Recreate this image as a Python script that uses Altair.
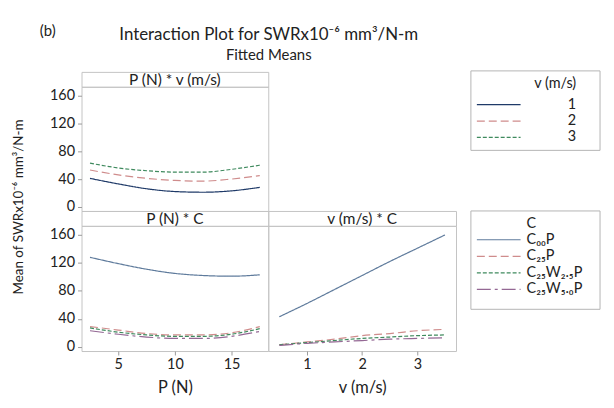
import altair as alt
import pandas as pd

FONT = "Lato"
TXT = "#222222"

# ---------------- data ----------------
P_points = [2.5, 5, 7.5, 10, 12.5, 15, 17.5]
v_points = [0.5, 1, 1.5, 2, 2.5, 3, 3.5]

v_levels = ["1", "2", "3"]
pv_v1 = [41, 33, 26, 22, 21, 23, 28]
pv_v2 = [53, 46, 41, 38, 37, 40, 45]
pv_v3 = [63, 56, 52, 50, 50, 54, 60]

C_levels = ["C\u2080\u2080P", "C\u2082\u2085P", "C\u2082\u2085W\u2082.\u2085P", "C\u2082\u2085W\u2085.\u2080P"]
pc_c00 = [128, 119, 111, 105, 102, 101, 103]
pc_c25 = [29, 24, 19, 17, 17, 20, 29]
pc_c25w25 = [27, 21, 17, 15, 15, 18, 26]
pc_c25w50 = [23, 18, 14, 12, 12, 15, 22]

vc_c00 = [43, 62, 82, 102, 122, 141, 160]
vc_c25 = [3, 7, 11, 16, 19, 23, 25]
vc_c25w25 = [3, 6, 9, 12, 14, 16, 17]
vc_c25w50 = [2, 5, 7, 9, 11, 12, 13]

y_ticks = [0, 40, 80, 120, 160]
P_ticks = [5, 10, 15]
v_ticks = [1, 2, 3]

title_text = "Interaction Plot for SWRx10\u207b\u2076 mm\u00b3/N-m"
subtitle_text = "Fitted Means"
ytitle_text = "Mean of SWRx10\u207b\u2076 mm\u00b3/N-m"

v_colors = ["#1f3a68", "#cf8c8c", "#3f8a5e"]
v_dashes = [[1, 0], [8, 4], [4, 2]]
C_colors = ["#5f7b9c", "#cf8c8c", "#3f8a5e", "#946894"]
C_dashes = [[1, 0], [8, 4], [4, 2], [14, 4, 3, 4]]

# ---------------- tables ----------------
def long_table(xs, series, levels, xname, gname):
    rows = []
    for lvl, ys in zip(levels, series):
        for x, y in zip(xs, ys):
            rows.append({xname: x, gname: lvl, "mean": y})
    return pd.DataFrame(rows)

df_pv = long_table(P_points, [pv_v1, pv_v2, pv_v3], v_levels, "P", "v")
df_pc = long_table(P_points, [pc_c00, pc_c25, pc_c25w25, pc_c25w50], C_levels, "P", "C")
df_vc = long_table(v_points, [vc_c00, vc_c25, vc_c25w25, vc_c25w50], C_levels, "vv", "C")

W1, W2 = 188, 189
H1, H2 = 125, 126
YDOM = [-6, 173]
NOSTROKE = alt.ViewBackground(stroke="transparent")
HDR_SIZE = 15.5
LEG_SIZE = 14.5
TICK_SIZE = 14.5


def yaxis():
    return alt.Axis(values=y_ticks, title=None, grid=False, domain=False,
                    tickSize=4, tickColor="#9a9a9a", labelFontSize=TICK_SIZE,
                    labelPadding=3, labelColor=TXT, labelFont=FONT)


def xaxis(vals, title):
    return alt.Axis(values=vals, title=title, grid=False, domain=False,
                    tickSize=4, tickColor="#9a9a9a", labelFontSize=TICK_SIZE,
                    labelPadding=3, labelColor=TXT, labelFont=FONT,
                    titleFontSize=16.5, titleFont=FONT, titleColor=TXT,
                    titleFontWeight="normal", titlePadding=8)


def lines(df, xfield, xdom, xax, yax, gfield, levels, colors, dashes):
    return alt.Chart(df).mark_line(strokeWidth=1.2, interpolate="monotone").encode(
        x=alt.X(f"{xfield}:Q", scale=alt.Scale(domain=xdom, nice=False, zero=False), axis=xax),
        y=alt.Y("mean:Q", scale=alt.Scale(domain=YDOM, nice=False, zero=False), axis=yax),
        color=alt.Color(f"{gfield}:N", scale=alt.Scale(domain=levels, range=colors), legend=None),
        strokeDash=alt.StrokeDash(f"{gfield}:N", scale=alt.Scale(domain=levels, range=dashes), legend=None),
        detail=f"{gfield}:N",
    )


def text_layer(txt, x, y, size, **kw):
    return alt.Chart(pd.DataFrame({"t": [txt]})).mark_text(
        font=FONT, fontSize=size, color=TXT, **kw
    ).encode(text="t:N", x=alt.value(x), y=alt.value(y))


def legend_layers(field, title, levels, colors, dashes, box, yrange, title_y, align, tx):
    # box = (x0, x1, y0, y1) in the host cell's pixel frame
    df = pd.DataFrame({field: levels})
    yenc = alt.Y(f"{field}:N", sort=levels, axis=None,
                 scale=alt.Scale(type="point", domain=levels, range=yrange, padding=0))
    frame = alt.Chart(pd.DataFrame({"a": [0]})).mark_rect(
        fill="transparent", stroke="#b4b4b4", strokeWidth=1
    ).encode(x=alt.value(box[0]), x2=alt.value(box[1]), y=alt.value(box[2]), y2=alt.value(box[3]))
    rules = alt.Chart(df).mark_rule(strokeWidth=1.2).encode(
        x=alt.value(box[0] + 6), x2=alt.value(box[0] + 50), y=yenc,
        color=alt.Color(f"{field}:N", scale=alt.Scale(domain=levels, range=colors), legend=None),
        strokeDash=alt.StrokeDash(f"{field}:N", scale=alt.Scale(domain=levels, range=dashes), legend=None),
    )
    labels = alt.Chart(df).mark_text(align=align, font=FONT, fontSize=LEG_SIZE, color=TXT).encode(
        x=alt.value(tx), y=yenc, text=f"{field}:N")
    ttl = text_layer(title, tx, title_y, LEG_SIZE, align=align)
    return [frame, rules, labels, ttl]


# ---------------- cells ----------------
hdr1 = alt.layer(
    text_layer("P (N) * v (m/s)", W1 / 2, 8, HDR_SIZE),
    text_layer(title_text, (W1 + W2) / 2, -32, 17, baseline="alphabetic"),
    text_layer(subtitle_text, (W1 + W2) / 2, -12, 15, baseline="alphabetic"),
    text_layer("(b)", -34, -36, 15, baseline="alphabetic"),
).properties(width=W1, height=15)

blank_hdr = text_layer("", 0, 0, 10).properties(width=W2, height=15, view=NOSTROKE)

hdr3 = text_layer("P (N) * C", W1 / 2, 8, HDR_SIZE).properties(width=W1, height=15)
hdr4 = text_layer("v (m/s) * C", W2 / 2, 8, HDR_SIZE).properties(width=W2, height=15)

p1 = lines(df_pv, "P", [1.75, 18.25], None, yaxis(), "v", v_levels, v_colors, v_dashes).properties(
    width=W1, height=H1)

leg_v_cell = alt.layer(
    *legend_layers("v", "v (m/s)", v_levels, v_colors, v_dashes,
                   (204, 334, -16, 64), [18, 51], -3, "right", 310)
).properties(width=W2, height=H1, view=NOSTROKE)

p3 = alt.layer(
    lines(df_pc, "P", [1.75, 18.25], xaxis(P_ticks, "P (N)"), yaxis(), "C", C_levels, C_colors, C_dashes),
    text_layer(ytitle_text, -63, -19, 13.5, angle=270),
).properties(width=W1, height=H2)

p4 = alt.layer(
    lines(df_vc, "vv", [0.3, 3.7], xaxis(v_ticks, "v (m/s)"), None, "C", C_levels, C_colors, C_dashes),
    *legend_layers("C", "C", C_levels, C_colors, C_dashes,
                   (204, 334, -15, 84), [14, 64], -2, "left", 260),
).resolve_scale(y="independent").properties(width=W2, height=H2)

chart = alt.concat(
    hdr1, blank_hdr, p1, leg_v_cell, hdr3, hdr4, p3, p4,
    columns=2, spacing=0, bounds="flush", align="each",
).resolve_scale(
    color="independent", strokeDash="independent"
).properties(
    padding={"left": 3, "top": 14, "right": 5, "bottom": 5},
    background="white",
).configure_view(stroke="#c4c4c4", strokeWidth=1)

chart.save("out.html", embed_options={"renderer": "svg", "actions": False})
